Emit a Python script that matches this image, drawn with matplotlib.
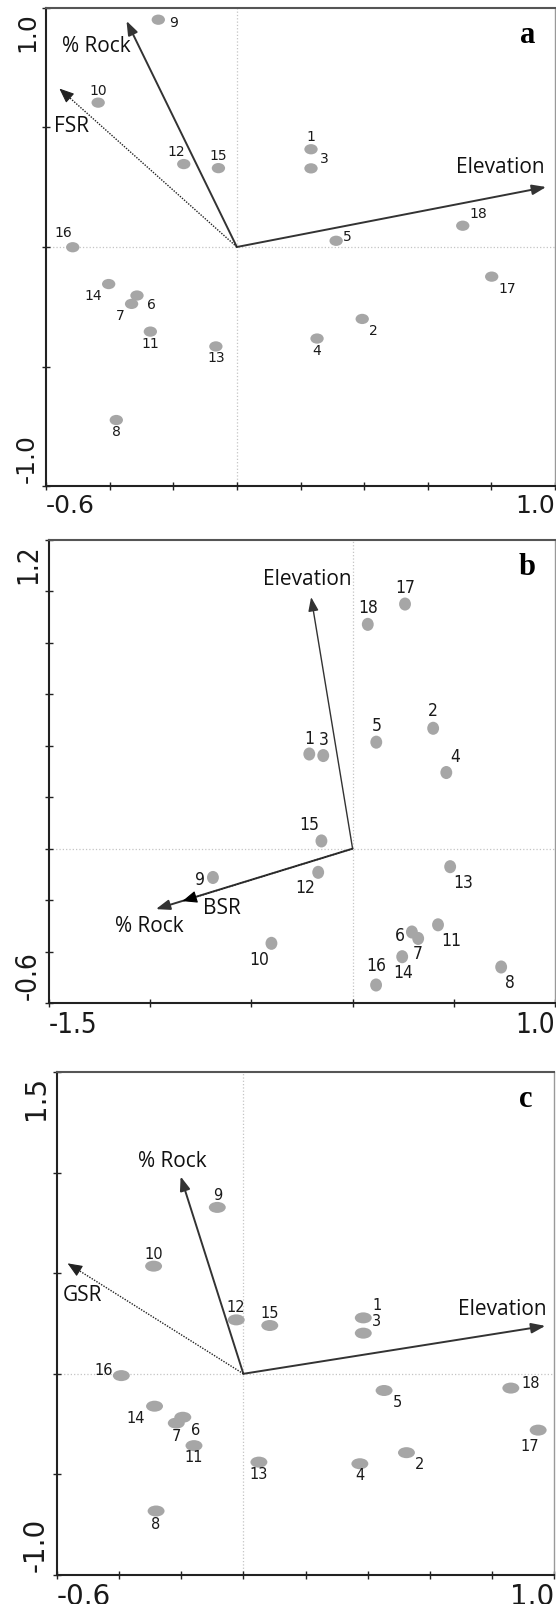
import matplotlib
matplotlib.use("Agg")
import numpy as np
import matplotlib.pyplot as plt
from matplotlib.path import Path
from matplotlib.transforms import Affine2D

# site numbers, same order in all three ordinations
sites = [str(i) for i in range(1, 19)]

# (a) FSR ordination - site scores
a_x = [0.233, 0.394, 0.233, 0.252, 0.312, -0.314, -0.331, -0.379, -0.247,
       -0.436, -0.272, -0.167, -0.066, -0.403, -0.058, -0.516, 0.801, 0.710]
a_y = [0.409, -0.301, 0.329, -0.383, 0.026, -0.203, -0.238, -0.724, 0.951,
       0.604, -0.354, 0.347, -0.416, -0.155, 0.330, -0.001, -0.124, 0.089]
a_vars = ["Elevation", "% Rock", "FSR"]
a_vx = [0.972, -0.347, -0.558]
a_vy = [0.251, 0.946, 0.663]

# (b) BSR ordination
b_x = [-0.214, 0.398, -0.145, 0.463, 0.117, 0.293, 0.324, 0.734, -0.690,
       -0.401, 0.422, -0.170, 0.482, 0.245, -0.154, 0.116, 0.259, 0.075]
b_y = [0.368, 0.468, 0.362, 0.296, 0.414, -0.324, -0.349, -0.460, -0.112,
       -0.368, -0.296, -0.092, -0.070, -0.420, 0.030, -0.530, 0.951, 0.872]
b_vars = ["Elevation", "% Rock", "BSR"]
b_vx = [-0.205, -0.972, -0.841]
b_vy = [0.978, -0.235, -0.204]

# (c) GSR ordination
c_x = [0.386, 0.525, 0.386, 0.375, 0.453, -0.195, -0.216, -0.281, -0.084,
       -0.289, -0.159, -0.023, 0.050, -0.286, 0.085, -0.393, 0.949, 0.861]
c_y = [0.278, -0.392, 0.202, -0.447, -0.083, -0.216, -0.245, -0.682, 0.827,
       0.535, -0.357, 0.268, -0.439, -0.161, 0.240, -0.009, -0.280, -0.071]
c_vars = ["Elevation", "% Rock", "GSR"]
c_vx = [0.972, -0.202, -0.566]
c_vy = [0.238, 0.981, 0.549]

# where each site number sits relative to its point (pixels, right / down)
a_off = [(0, -12), (11, 12), (13, -9), (0, 12), (11, -4), (14, 9), (-11, 12),
         (0, 12), (15, 3), (0, -12), (0, 12), (-7, -12), (0, 12), (-15, 12),
         (0, -12), (-9, -14), (16, 12), (16, -12)]
b_off = [(0, -15), (0, -17), (0, -16), (9, -16), (0, -16), (-12, 4), (0, 16),
         (9, 16), (-13, 3), (-12, 17), (13, 16), (-13, 16), (13, 16), (1, 16),
         (-12, -16), (0, -19), (0, -16), (0, -16)]
c_off = [(14, -12), (13, 12), (13, -12), (0, 12), (13, 12), (13, 13), (0, 13),
         (0, 13), (0, -12), (0, -12), (0, 12), (0, -12), (0, 12), (-19, 12),
         (0, -12), (-18, -5), (-8, 16), (20, -5)]

# label centres for the environmental vectors (data units)
a_lab = [(0.829, 0.331), (-0.442, 0.837), (-0.519, 0.506)]
b_lab = [(-0.224, 1.045), (-1.002, -0.303), (-0.648, -0.232)]
c_lab = [(0.832, 0.319), (-0.230, 1.055), (-0.518, 0.388)]

PT = 0.72  # pixels -> points at dpi 100
DARK = "#333333"
DOT = "#a6a6a6"
VAR_FONT = ["Open Sans", "DejaVu Sans"]
WIDE = dict(family="DejaVu Sans")
NARROW = dict(family=["Liberation Sans Narrow", "DejaVu Sans"], stretch="condensed")


def ellipse(aspect):
    return Path.unit_circle().transformed(Affine2D().scale(1.0, aspect))


def draw_panel(ax, xs, ys, offs, names, vx, vy, labpos, xlim, ylim,
               xticks, yticks, letter, num_font, num_size, tick_size,
               marker, msize, lw_up=1.4, dotted_head_bold=False):
    ax.set_xlim(*xlim)
    ax.set_ylim(*ylim)
    ax.set_xticks(xticks)
    ax.set_yticks(yticks)
    ax.set_xticklabels([])
    ax.set_yticklabels([])
    ax.tick_params(direction="inout", length=6, width=1, colors="#222222")
    for side in ["left", "bottom"]:
        ax.spines[side].set_color("#222222")
        ax.spines[side].set_linewidth(1.5)
    ax.spines["top"].set_color("#555555")
    ax.spines["top"].set_linewidth(1.5)
    ax.spines["right"].set_color("#999999")
    ax.spines["right"].set_linewidth(1.0)

    ax.axhline(0, color="#c4c4c4", lw=0.9, ls=":", zorder=0)
    ax.axvline(0, color="#c4c4c4", lw=0.9, ls=":", zorder=0)

    ax.scatter(xs, ys, s=msize ** 2, marker=marker, color=DOT,
               edgecolors="none", zorder=3)
    for s, x, y, (dx, dy) in zip(sites, xs, ys, offs):
        ax.annotate(s, (x, y), xytext=(dx * PT, -dy * PT),
                    textcoords="offset points", ha="center", va="center",
                    fontsize=num_size, color="#1a1a1a", zorder=4, **num_font)

    # the first two vectors are solid, the third (species richness) dotted
    for i, (name, ex, ey) in enumerate(zip(names, vx, vy)):
        if i < 2:
            lw = lw_up if i == 0 else 1.4
            ax.annotate("", xy=(ex, ey), xytext=(0, 0),
                        arrowprops=dict(arrowstyle="-|>,head_length=0.6,head_width=0.22",
                                        color=DARK, lw=lw, mutation_scale=14,
                                        shrinkA=0, shrinkB=0), zorder=5)
        else:
            ax.plot([0, ex * 0.96], [0, ey * 0.96], ls=(0, (1, 1)),
                    color="#222222", lw=1.0, zorder=5)
            hc = "black" if dotted_head_bold else "#222222"
            ax.annotate("", xy=(ex, ey), xytext=(ex * 0.95, ey * 0.95),
                        arrowprops=dict(arrowstyle="-|>,head_length=0.6,head_width=0.25",
                                        color=hc, lw=0.8, mutation_scale=15,
                                        shrinkA=0, shrinkB=0), zorder=6)
        lx, ly = labpos[i]
        ax.text(lx, ly, name, family=VAR_FONT, fontsize=15, color="#111111",
                ha="center", va="center", zorder=6)

    ax.annotate(letter, (1, 1), xycoords="axes fraction",
                xytext=(-20, -25), textcoords="offset points",
                ha="center", va="baseline", family="Liberation Serif",
                weight="bold", fontsize=22)

    kw = dict(xycoords="axes fraction", textcoords="offset points",
              fontsize=tick_size, color="#1a1a1a", **num_font)
    fmt = lambda v: f"{v:.1f}"
    ax.annotate(fmt(xlim[0]), (0, 0), xytext=(0, -6), ha="left", va="top", **kw)
    ax.annotate(fmt(xlim[1]), (1, 0), xytext=(0, -6), ha="right", va="top", **kw)
    ax.annotate(fmt(ylim[0]), (0, 0), xytext=(-5, 2), ha="right", va="bottom",
                rotation=90, **kw)
    ax.annotate(fmt(ylim[1]), (0, 1), xytext=(-5, -3), ha="right", va="top",
                rotation=90, **kw)


W, H = 556, 1604
fig = plt.figure(figsize=(W / 100, H / 100), dpi=100)


def box(left, right, top, bottom):
    return [left / W, 1 - bottom / H, (right - left) / W, (bottom - top) / H]


ax_a = fig.add_axes(box(46, 555, 8, 486))
ax_b = fig.add_axes(box(49, 555, 540, 1003))
ax_c = fig.add_axes(box(57, 554, 1072, 1575))

draw_panel(ax_a, a_x, a_y, a_off, a_vars, a_vx, a_vy, a_lab,
           (-0.6, 1.0), (-1.0, 1.0), np.arange(-0.6, 1.01, 0.2),
           np.arange(-1.0, 1.01, 0.5), "a", WIDE, 10, 18,
           ellipse(0.77), 9.6)
draw_panel(ax_b, b_x, b_y, b_off, b_vars, b_vx, b_vy, b_lab,
           (-1.5, 1.0), (-0.6, 1.2), np.arange(-1.5, 1.01, 0.5),
           np.arange(-0.6, 1.21, 0.2), "b", NARROW, 12.5, 20,
           ellipse(1.1), 9.4, lw_up=1.0, dotted_head_bold=True)
draw_panel(ax_c, c_x, c_y, c_off, c_vars, c_vx, c_vy, c_lab,
           (-0.6, 1.0), (-1.0, 1.5), np.arange(-0.6, 1.01, 0.2),
           np.arange(-1.0, 1.51, 0.5), "c", WIDE, 10.5, 20,
           ellipse(0.65), 12.2)

fig.savefig("out.png", dpi=100)
